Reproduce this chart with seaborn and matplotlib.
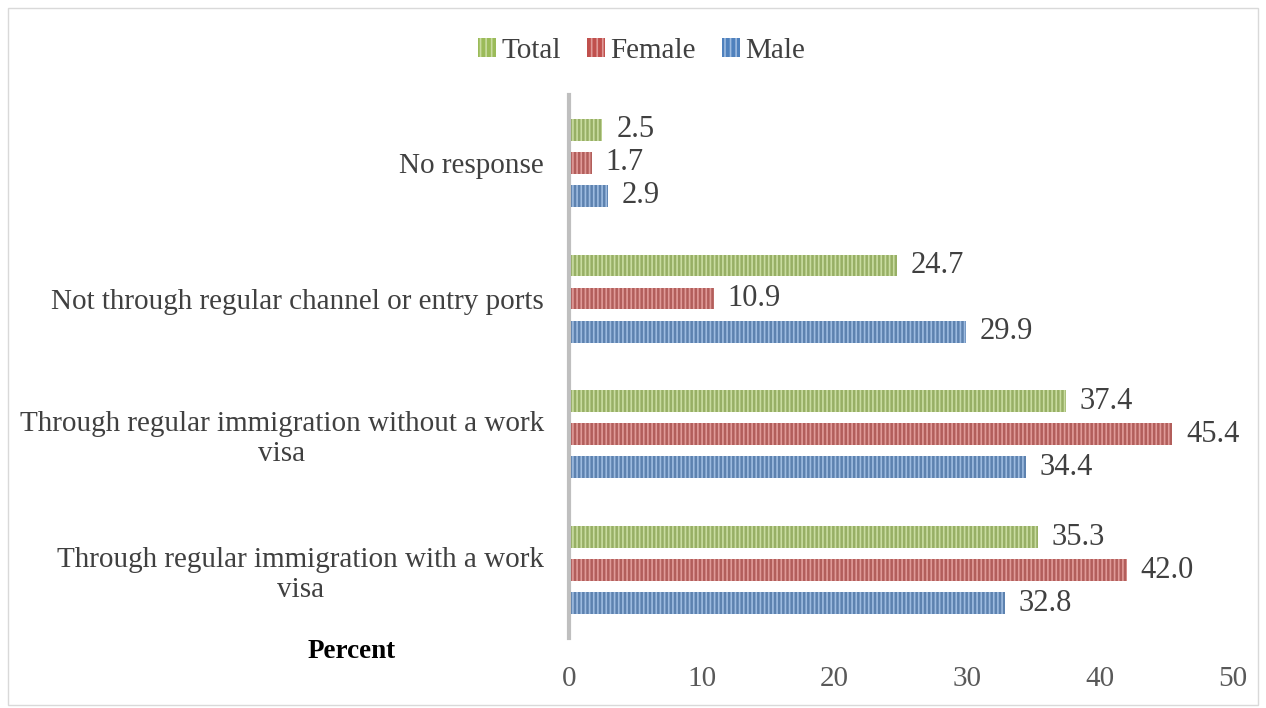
import matplotlib
matplotlib.use("Agg")
import matplotlib.pyplot as plt
import seaborn as sns
import pandas as pd
from matplotlib.patches import Rectangle, Patch

categories = ["No response", "Not through regular channel or entry ports",
              "Through regular immigration without a work\nvisa",
              "Through regular immigration with a work\nvisa"]
series = ["Total", "Female", "Male"]
total = [2.5, 24.7, 37.4, 35.3]
female = [1.7, 10.9, 45.4, 42.0]
male = [2.9, 29.9, 34.4, 32.8]
xticks = [0, 10, 20, 30, 40, 50]

colors = {"Total": "#9BBB59", "Female": "#C0504D", "Male": "#4F81BD"}
hatch_colors = {"Total": "#C9DCA0", "Female": "#E09A98", "Male": "#9DBBE0"}

rows = []
for s, vals in zip(series, [total, female, male]):
    for c, v in zip(categories, vals):
        rows.append({"Category": c, "Series": s, "Value": v})
df = pd.DataFrame(rows)

sns.set_theme(style="white")
plt.rcParams['font.family'] = ['Liberation Serif', 'DejaVu Serif']
plt.rcParams['hatch.linewidth'] = 1.2

fig = plt.figure(figsize=(12.66, 7.08), dpi=100)
ax = fig.add_axes([0.4495, 0.0989, 0.5245, 0.767])

sns.barplot(data=df, y="Category", x="Value", hue="Series", order=categories,
            hue_order=series, palette=colors, orient="h", width=0.73, gap=0.34,
            legend=False, ax=ax, errorbar=None)

for container, s in zip(ax.containers, series):
    for bar in container:
        bar.set_hatch("||||")
        bar.set_edgecolor(hatch_colors[s])
        bar.set_linewidth(0)
    labels = ax.bar_label(container, fmt="%.1f", padding=10, fontsize=22, color="#404040")
    for t in labels:
        t.set_y(t.get_position()[1] + 0.015)

ax.set_xlim(0, 50)
ax.set_xticks(xticks)
ax.set_xticklabels([str(t) for t in xticks], fontsize=21, color="#595959")
ax.tick_params(axis="x", length=0, pad=20)
ax.tick_params(axis="y", length=0, pad=18, labelsize=21, labelcolor="#404040")
for lab in ax.get_yticklabels():
    lab.set_multialignment("center")
ax.set_xlabel("")
ax.set_ylabel("")
for sp in ["top", "right", "bottom"]:
    ax.spines[sp].set_visible(False)
ax.spines["left"].set_color("#BFBFBF")
ax.spines["left"].set_linewidth(3)

fig.text(352 / 1266, 1 - 652 / 708, "Percent", fontsize=19.5, fontweight="bold",
         color="black", ha="center", va="center")

handles = [Patch(facecolor=colors[s], edgecolor=hatch_colors[s], hatch="|||", linewidth=0)
           for s in series]
fig.legend(handles, series, loc="center", bbox_to_anchor=(0.507, 1 - 51 / 708), ncol=3,
           frameon=False, fontsize=21, handlelength=0.6, handleheight=0.6,
           handletextpad=0.2, columnspacing=0.9, labelcolor="#404040")

fig.patches.append(Rectangle((8 / 1266, 3 / 708), 1250 / 1266, 697 / 708,
                             transform=fig.transFigure, fill=False,
                             edgecolor="#D9D9D9", linewidth=1))

fig.savefig("out.png", dpi=100)
